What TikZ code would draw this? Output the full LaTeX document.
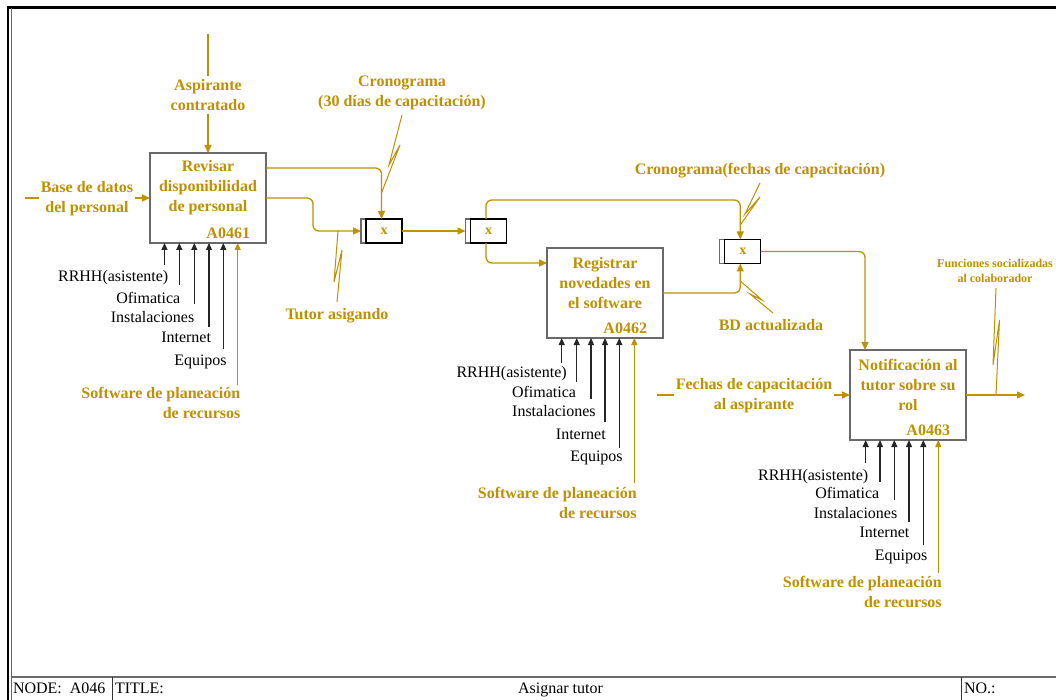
\documentclass[tikz,border=0pt]{standalone}
\usepackage{fontspec}
\setmainfont{Liberation Serif}
\usetikzlibrary{arrows.meta,calc}
\definecolor{gold}{RGB}{191,144,0}
\definecolor{framegray}{RGB}{105,105,105}
\begin{document}
\begin{tikzpicture}[x=1pt,y=-1pt,
  every node/.style={inner sep=0pt, outer sep=0pt},
  actbox/.style={draw=framegray, line width=2pt, fill=white,
    minimum width=116pt, minimum height=90pt, anchor=north west},
  acttext/.style={text=gold, font=\fontsize{16}{20}\selectfont\bfseries, align=center},
  actid/.style={text=gold, font=\fontsize{16}{20}\selectfont\bfseries, anchor=east},
  glabel/.style={text=gold, font=\fontsize{16}{20}\selectfont\bfseries, align=center,
    inner xsep=2pt, inner ysep=3pt},
  smalllabel/.style={glabel, font=\fontsize{12}{15}\selectfont\bfseries},
  mlabel/.style={text=black, font=\fontsize{16}{20}\selectfont, anchor=base east},
  slabel/.style={text=gold, font=\fontsize{16}{20}\selectfont\bfseries, align=right, anchor=north east},
  rowtext/.style={text=black, font=\fontsize{16}{20}\selectfont},
  flow/.style={draw=gold, line width=1.3pt, rounded corners=6pt},
  flowarrow/.style={flow, -{Triangle[length=8pt,width=7pt]}},
  mecharrow/.style={draw=black!85, line width=1.2pt, -{Triangle[length=7pt,width=6pt]}},
  goldmech/.style={draw=gold, line width=1.1pt, -{Triangle[length=7pt,width=6pt]}},
  bolt/.style={draw=gold, line width=1pt, line join=miter},
  jnode/.style={minimum width=41pt, minimum height=24pt},
  jbar/.style={draw=framegray, line width=1.3pt, fill=white},
  jframe/.style={draw=black, line width=1.3pt, fill=white},
  jmark/.style={text=gold, font=\fontsize{14}{14}\selectfont\bfseries},
]
\useasboundingbox (0,0) rectangle (1056,700);
\fill[white] (0,0) rectangle (1056,700);

% ---- sheet frame ----
\draw[line width=2.5pt, black] (6.5,7.5) -- (1056,7.5);
\draw[line width=2pt, black] (7.7,6.5) -- (7.7,700);
\draw[line width=1pt, framegray] (11,8.5) -- (11,700);
\draw[line width=2pt, framegray] (11,676.5) -- (1056,676.5);
\draw[line width=1pt, black!80] (112,677) -- (112,700);
\draw[line width=1pt, black!80] (961,677) -- (961,700);
\node[rowtext, anchor=base west] (nodecell) at (13,693.3) {NODE: \ A046};
\node[rowtext, anchor=base west] (titlecell) at (115,693.3) {TITLE:};
\node[rowtext, anchor=base] (titletext) at (560.5,693.3) {Asignar tutor};
\node[rowtext, anchor=base west] (nocell) at (964,693.3) {NO.:};

% ---- activity boxes ----
\node[actbox] (b1) at (150,153) {};
\node[acttext] (b1t) at ([yshift=-35pt]b1.north) {Revisar\\disponibilidad\\de personal};
\node[actid] (b1id) at ([xshift=-16pt,yshift=10pt]b1.south east) {A0461};

\node[actbox] (b2) at (547,248) {};
\node[acttext] (b2t) at ([yshift=-35pt]b2.north) {Registrar\\novedades en\\el software};
\node[actid] (b2id) at ([xshift=-16pt,yshift=10pt]b2.south east) {A0462};

\node[actbox] (b3) at (850,350) {};
\node[acttext] (b3t) at ([yshift=-35pt]b3.north) {Notificación al\\tutor sobre su\\rol};
\node[actid] (b3id) at ([xshift=-16pt,yshift=10pt]b3.south east) {A0463};

% ---- junctions ----
\node[jnode] (j1) at (381.5,231) {};
\node[jnode] (j2) at (486,231) {};
\node[jnode] (j3) at (740.25,251.5) {};
\foreach \j in {j1,j2,j3}{
  \draw[jbar] (\j.north west) rectangle ([xshift=5pt]\j.south west);
  \draw[jframe] ([xshift=5pt]\j.north west) rectangle (\j.south east);
  \node[jmark] (\j x) at ([xshift=2.5pt]\j.center) {x};
}

% ---- control of A0461 ----
\coordinate (c1top) at (208,34);
\node[glabel] (c1lbl) at (208,95) {Aspirante\\contratado};
\draw[flow] (c1top) -- (c1lbl.north);
\draw[flowarrow] (c1lbl.south) -- (b1.north);

% ---- input of A0461 ----
\coordinate (i1start) at (25,198);
\node[glabel] (i1lbl) at (87,199) {Base de datos\\del personal};
\draw[flow] (i1start) -- (i1start -| i1lbl.west);
\draw[flowarrow] (i1lbl.east |- b1.west) -- (b1.west);

% ---- flows between activities ----
\draw[flowarrow] ([yshift=30pt]b1.east) -| (j1.north);
\draw[flowarrow] (b1.east) -- ++(47,0) |- (j1.west);
\draw[flowarrow] (j1.east) -- (j2.west);
\draw[flowarrow] (j2.north) -- ++(0,-19) -| (j3.north);
\draw[flowarrow] (j2.south) |- ([yshift=30pt]b2.west);
\draw[flowarrow] (b2.east) -| (j3.south);
\draw[flowarrow] (j3.east) -| ([xshift=-43pt]b3.north);

% ---- input and output of A0463 ----
\coordinate (i3start) at (657,395);
\node[glabel] (i3lbl) at (754,396) {Fechas de capacitación\\al aspirante};
\draw[flow] (i3start) -- (i3start -| i3lbl.west);
\draw[flowarrow] (i3lbl.east |- b3.west) -- (b3.west);
\coordinate (o3end) at (1025,395);
\draw[flowarrow] (b3.east) -- (o3end);

% ---- arrow labels with squiggles ----
\node[glabel] (cron1) at (402,93) {Cronograma\\(30 días de capacitación)};
\draw[bolt] (402,115) -- (389,165) -- (400,145) -- (381.5,193);

\node[glabel] (tutor) at (337,316) {Tutor asigando};
\draw[bolt] (338,231) -- (334,282) -- (342,250) -- (337,302);

\node[glabel] (cron2) at (760,171) {Cronograma(fechas de capacitación)};
\draw[bolt] (760,183) -- (745,214) -- (760,197) -- (740.25,225);

\node[glabel] (bd) at (771,325) {BD actualizada};
\draw[bolt] (773,313) -- (750,294) -- (762,300) -- (740.25,281);

\node[smalllabel] (func) at (995,271) {Funciones socializadas\\al colaborador};
\draw[bolt] (996,288) -- (993,365) -- (999.5,320) -- (996,395);

% ---- mechanisms of A0461 ----
\coordinate (m1a) at (164.5,265);
\coordinate (m1b) at (179.3,285);
\coordinate (m1c) at (194.3,304);
\coordinate (m1d) at (209,327);
\coordinate (m1e) at (223.3,349);
\coordinate (m1f) at (237.7,385);
\foreach \m in {m1a,m1b,m1c,m1d,m1e}{\draw[mecharrow] (\m) -- (\m |- b1.south);}
\draw[goldmech] (m1f) -- (m1f |- b1.south);
\node[mlabel] (l1a) at (168.3,281.5) {RRHH(asistente)};
\node[mlabel] (l1b) at (180.3,303.3) {Ofimatica};
\node[mlabel] (l1c) at (194.3,322.3) {Instalaciones};
\node[mlabel] (l1d) at (211,342.3) {Internet};
\node[mlabel] (l1e) at (226.7,365) {Equipos};
\node[slabel] (l1f) at (240.3,387.6) {Software de planeación\\de recursos};

% ---- mechanisms of A0462 ----
\coordinate (m2a) at (561.7,362.7);
\coordinate (m2b) at (576.7,381.7);
\coordinate (m2c) at (591,399);
\coordinate (m2d) at (605,421.7);
\coordinate (m2e) at (619.3,447.7);
\coordinate (m2f) at (634.3,483.3);
\foreach \m in {m2a,m2b,m2c,m2d,m2e}{\draw[mecharrow] (\m) -- (\m |- b2.south);}
\draw[goldmech] (m2f) -- (m2f |- b2.south);
\node[mlabel] (l2a) at (566.7,377.3) {RRHH(asistente)};
\node[mlabel] (l2b) at (576,397.3) {Ofimatica};
\node[mlabel] (l2c) at (595.7,416.7) {Instalaciones};
\node[mlabel] (l2d) at (605.7,439.3) {Internet};
\node[mlabel] (l2e) at (622.7,461) {Equipos};
\node[slabel] (l2f) at (636.7,487.3) {Software de planeación\\de recursos};

% ---- mechanisms of A0463 ----
\coordinate (m3a) at (865.7,463.3);
\coordinate (m3b) at (880,481.7);
\coordinate (m3c) at (894.3,500);
\coordinate (m3d) at (909,521.7);
\coordinate (m3e) at (923.3,545);
\coordinate (m3f) at (938.3,573.3);
\foreach \m in {m3a,m3b,m3c,m3d,m3e}{\draw[mecharrow] (\m) -- (\m |- b3.south);}
\draw[goldmech] (m3f) -- (m3f |- b3.south);
\node[mlabel] (l3a) at (868.3,480) {RRHH(asistente)};
\node[mlabel] (l3b) at (879.3,498.3) {Ofimatica};
\node[mlabel] (l3c) at (897.3,518.3) {Instalaciones};
\node[mlabel] (l3d) at (909.3,537.3) {Internet};
\node[mlabel] (l3e) at (927.3,560) {Equipos};
\node[slabel] (l3f) at (941.7,576) {Software de planeación\\de recursos};
\end{tikzpicture}
\end{document}
